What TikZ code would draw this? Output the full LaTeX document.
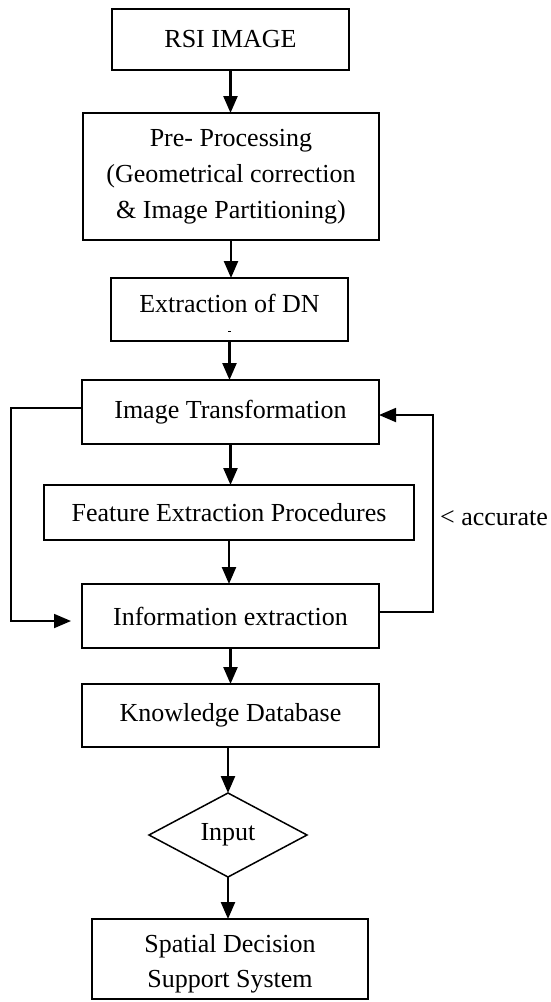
\documentclass[tikz,border=0pt]{standalone}
\usepackage{fontspec}
\setmainfont{Liberation Serif}
\usetikzlibrary{arrows.meta,shapes.geometric}
\begin{document}
\begin{tikzpicture}[x=1pt,y=-1pt,
  box/.style={draw, line width=1.8pt, inner sep=0pt, outer sep=0pt, align=center,
    font=\fontsize{26}{36}\selectfont},
  txt/.style={inner sep=0pt, align=center, font=\fontsize{26}{35}\selectfont},
  tip/.style={-{Triangle[length=17pt,width=14pt]}},
  flow/.style={line width=2.4pt, tip},
  loopline/.style={line width=1.8pt}]
\useasboundingbox (0,0) rectangle (550,1002);

% main column of process boxes
\node[box, minimum width=237pt, minimum height=61pt] (rsi) at (230.5,39.5) {RSI IMAGE};
\node[box, minimum width=296pt, minimum height=127pt] (pre) at (231,176.5)
  {Pre- Processing\\(Geometrical correction\\\& Image Partitioning)};
\node[box, minimum width=237pt, minimum height=63pt] (ext) at (229.5,309.5) {};
\node[txt] (extlabel) at (229.5,303) {Extraction of DN};
\draw[line width=1pt] (228,331) -- (231,331);
\node[box, minimum width=297pt, minimum height=64pt] (it) at (230.5,412) {Image Transformation};
\node[box, minimum width=370pt, minimum height=55pt] (fe) at (229,512.5) {Feature Extraction Procedures};
\node[box, minimum width=297pt, minimum height=64pt] (info) at (230.5,616) {Information extraction};
\node[box, minimum width=297pt, minimum height=63pt] (kd) at (230.5,715.5) {Knowledge Database};
\node[box, shape=diamond, line width=1.5pt, minimum width=158pt, minimum height=84pt] (in) at (228,835) {Input};
\node[box, minimum width=276pt, minimum height=80pt] (sds) at (230,959) {};
\node[txt] (sdslabel) at (230,964) {Spatial Decision\\Support System};

% downward flow
\draw[flow] (rsi.south) -- (rsi.south |- pre.north);
\draw[flow] (pre.south) -- (pre.south |- ext.north);
\draw[flow] (ext.south) -- (ext.south |- it.north);
\draw[flow] (it.south) -- (it.south |- fe.north);
\draw[flow] (fe.south) -- (fe.south |- info.north);
\draw[flow] (info.south) -- (info.south |- kd.north);
\draw[flow] (kd.south -| in.north) -- (in.north);
\draw[flow] (in.south) -- (in.south |- sds.north);

% bypass on the left
\coordinate (lcorner) at (11,621);
\coordinate (lend) at (71,621);
\draw[loopline, tip] ([yshift=4pt]it.west) -| (lcorner) -- (lend);

% feedback on the right
\coordinate (rcorner) at (433,415);
\draw[loopline, tip] ([yshift=4pt]info.east) -| (rcorner) -- ([yshift=-3pt]it.east);
\node[txt, anchor=base west] (acc) at (440,525) {< accurate};
\end{tikzpicture}
\end{document}
